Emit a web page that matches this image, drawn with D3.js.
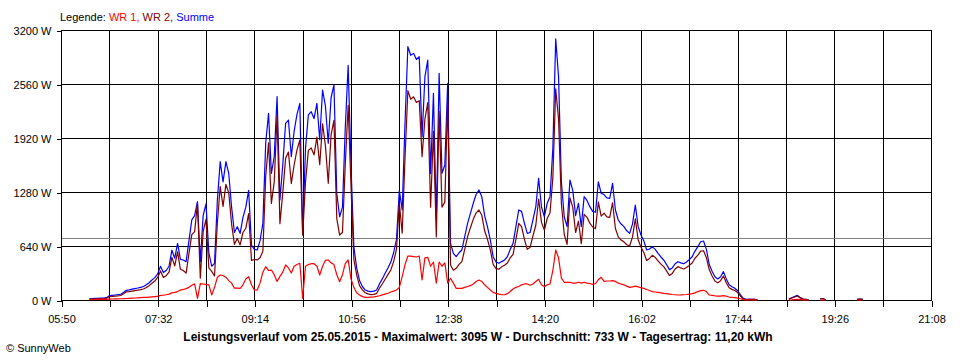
<!DOCTYPE html>
<html><head><meta charset="utf-8">
<script src="https://cdn.jsdelivr.net/npm/d3@7"></script>
<style>body{margin:0;background:#fff}svg{display:block}</style>
</head><body><svg id="c" width="960" height="360"></svg>
<script>
// ---- data ----
const startTime = "06:20";
const stepMinutes = 3;
const summe = [15,18,20,20,22,24,28,51,55,59,63,68,90,115,120,128,135,142,150,160,
180,205,237,265,310,400,325,350,400,590,495,670,482,474,454,700,950,1000,1165,454,
1000,1140,560,400,435,1185,1640,1400,1640,1500,1100,800,869,790,980,1100,1300,650,600,593,
700,909,1860,2212,1500,1700,2410,1185,1600,2094,2133,1700,2000,2200,2331,790,1800,2193,2232,2150,
2331,1900,2489,2300,1857,2400,2550,1264,987,1100,2054,2780,1600,632,380,230,160,118,105,99,
105,118,190,250,316,380,450,560,720,1300,1067,2100,3002,2900,2923,2850,2884,1936,2647,2844,
1500,2450,948,2686,1501,1600,2568,672,553,513,560,593,750,909,1027,1146,1250,1304,1225,1000,
869,711,513,450,435,455,474,513,600,672,869,1067,1050,909,790,800,950,1106,1442,1100,
987,1146,1225,1800,3095,2647,1400,987,869,1422,1300,1000,1146,869,1225,1180,1106,1050,1040,1400,
1264,1250,1210,1205,1383,1067,948,900,869,820,790,900,1126,869,770,700,593,605,630,600,
553,510,474,420,360,380,430,454,440,430,450,480,513,580,632,690,699,600,420,340,
276,250,276,336,250,180,158,140,110,60,20,8,8,8,8,0,null,null,null,null,
null,null,null,null,null,null,10,25,40,55,30,12,8,0,null,null,null,15,18,0,
null,null,null,null,null,null,null,null,null,null,8,10,8];
const wr1 = [5,6,6,7,7,8,8,10,12,13,14,15,16,18,20,22,24,26,28,30,
32,35,38,40,42,55,58,62,70,85,90,100,118,125,135,150,175,190,20,195,
190,185,180,60,150,270,296,290,270,230,200,140,140,138,180,250,276,180,120,118,
200,330,395,350,355,300,220,280,330,415,380,320,400,420,435,20,400,420,430,430,
400,296,400,470,474,440,420,300,217,300,435,474,250,150,85,60,40,32,32,35,
38,42,50,60,70,80,95,105,118,150,276,420,521,520,515,510,521,237,500,505,
400,450,200,450,400,440,200,257,200,138,138,138,150,160,170,190,220,237,220,180,
150,118,90,79,70,62,62,75,100,130,150,160,180,190,190,175,190,220,245,180,
158,180,190,350,593,500,260,210,210,210,200,200,210,200,210,200,195,185,195,240,
269,220,225,225,230,220,200,190,180,165,150,155,165,155,145,138,125,112,100,95,
90,85,79,75,70,65,62,59,60,62,65,70,75,85,100,111,115,100,59,55,
50,47,47,52,45,35,32,28,22,15,5,2,0,0,0,0,null,null,null,null,
null,null,null,null,null,null,0,2,5,8,5,2,0,0,null,null,null,0,0,0,
null,null,null,null,null,null,null,null,null,null,0,0,0];
const wr2 = [10,12,14,13,15,16,20,41,43,46,49,53,74,97,100,106,111,116,122,130,
148,170,199,225,268,345,267,288,330,505,405,570,364,349,319,550,775,810,1145,259,
810,955,380,340,285,915,1344,1110,1370,1270,900,660,729,652,800,850,1024,470,480,475,
500,579,1465,1862,1145,1400,2190,905,1270,1679,1753,1380,1600,1780,1896,770,1400,1773,1802,1720,
1931,1604,2089,1830,1383,1960,2130,964,770,800,1619,2306,1350,482,295,170,120,86,73,64,
67,76,140,190,246,300,355,455,602,1150,791,1680,2481,2380,2408,2340,2363,1699,2147,2339,
1100,2000,748,2236,1101,1160,2368,415,353,375,422,455,600,749,857,956,1030,1067,1005,820,
719,593,423,371,365,393,412,438,500,542,719,907,870,719,600,625,760,886,1197,920,
829,966,1035,1450,2502,2147,1140,777,659,1212,1100,800,936,669,1015,980,911,865,845,1160,
995,1030,985,980,1153,847,748,710,689,655,640,745,961,714,625,562,468,493,530,505,
463,425,395,345,290,315,368,395,380,368,385,410,438,495,532,579,584,500,361,285,
226,203,229,284,205,145,126,112,88,45,15,6,8,8,8,0,null,null,null,null,
null,null,null,null,null,null,10,23,35,47,25,10,8,0,null,null,null,15,18,0,
null,null,null,null,null,null,null,null,null,null,8,10,8];
const yTicks = [0, 640, 1280, 1920, 2560, 3200];
const xTickLabels = ["05:50","07:32","09:14","10:56","12:38","14:20","16:02","17:44","19:26","21:08"];
const gridStepMinutes = 51;
const average = 733;
const legendLabel = "Legende: ";
const seriesNames = ["WR 1", "WR 2", "Summe"];
const seriesColors = ["#ff0000", "#800000", "#0000ff"];
const title = "Leistungsverlauf vom 25.05.2015 - Maximalwert: 3095 W - Durchschnitt: 733 W - Tagesertrag: 11,20 kWh";
const copyright = "\u00a9 SunnyWeb";

// ---- helpers ----
const toMin = s => { const [h, m] = s.split(":").map(Number); return h * 60 + m; };
const fmt = m => String(Math.floor(m / 60)).padStart(2, "0") + ":" + String(m % 60).padStart(2, "0");
const t0 = toMin(startTime);

const svg = d3.select("#c");
const font = "'Liberation Sans', Arial, sans-serif";
const L = 61, R = 931, T = 30, B = 300;

const x = d3.scaleLinear().domain([toMin(xTickLabels[0]), toMin(xTickLabels[xTickLabels.length - 1])]).range([L, R]);
const y = d3.scaleLinear().domain([0, 3200]).range([B, T]);

const gridTimes = d3.range(x.domain()[0], x.domain()[1] + 1, gridStepMinutes);
const labelSet = new Set(xTickLabels.map(toMin));

// grid
const g = svg.append("g").attr("shape-rendering", "crispEdges");
g.selectAll("line.v").data(gridTimes).join("line")
  .attr("x1", d => Math.round(x(d)) + 0.5).attr("x2", d => Math.round(x(d)) + 0.5)
  .attr("y1", T).attr("y2", B).attr("stroke", "#000");
g.selectAll("line.h").data(yTicks).join("line")
  .attr("x1", L).attr("x2", R + 1)
  .attr("y1", d => Math.round(y(d)) + 0.5).attr("y2", d => Math.round(y(d)) + 0.5).attr("stroke", "#000");

// average line
g.append("line").attr("x1", L + 1).attr("x2", R)
  .attr("y1", Math.round(y(average)) + 0.5).attr("y2", Math.round(y(average)) + 0.5)
  .attr("stroke", "#808080");

// axes
const yAxis = d3.axisLeft(y).tickValues(yTicks).tickSize(5).tickPadding(5).tickFormat(d => d + " W");
const ya = svg.append("g").attr("transform", `translate(${L + 0.5},0.5)`).call(yAxis);
const xAxis = d3.axisBottom(x).tickValues(gridTimes).tickSize(6).tickPadding(9)
  .tickFormat(d => labelSet.has(d) ? fmt(d) : "");
const xa = svg.append("g").attr("transform", `translate(0.5,${B + 0.5})`).call(xAxis);
[ya, xa].forEach(a => {
  a.select(".domain").remove();
  a.selectAll("line").attr("stroke", "#000").attr("shape-rendering", "crispEdges");
  a.selectAll("text").attr("font-family", font).attr("font-size", 11).attr("fill", "#000");
});

// series
const series = [
  { values: summe, color: seriesColors[2] },
  { values: wr2, color: seriesColors[1] },
  { values: wr1, color: seriesColors[0] }
];
const line = d3.line()
  .defined(d => d != null)
  .x((d, i) => x(t0 + i * stepMinutes))
  .y(d => y(d))
  .curve(d3.curveLinear);
svg.append("g").selectAll("path").data(series).join("path")
  .attr("d", s => line(s.values))
  .attr("fill", "none").attr("stroke", s => s.color).attr("stroke-width", 1.2)
  .attr("stroke-linejoin", "round");

// legend
const leg = svg.append("text").attr("x", 60).attr("y", 21)
  .attr("font-family", font).attr("font-size", 11);
leg.append("tspan").attr("fill", "#000").text(legendLabel);
seriesNames.forEach((n, i) => {
  leg.append("tspan").attr("fill", seriesColors[i]).text(n + (i < seriesNames.length - 1 ? ", " : ""));
});

// title
svg.append("text").attr("x", 478).attr("y", 341).attr("text-anchor", "middle")
  .attr("font-family", font).attr("font-size", 12).attr("font-weight", "bold").text(title);
svg.append("text").attr("x", 6).attr("y", 352)
  .attr("font-family", font).attr("font-size", 11).text(copyright);
</script></body></html>
